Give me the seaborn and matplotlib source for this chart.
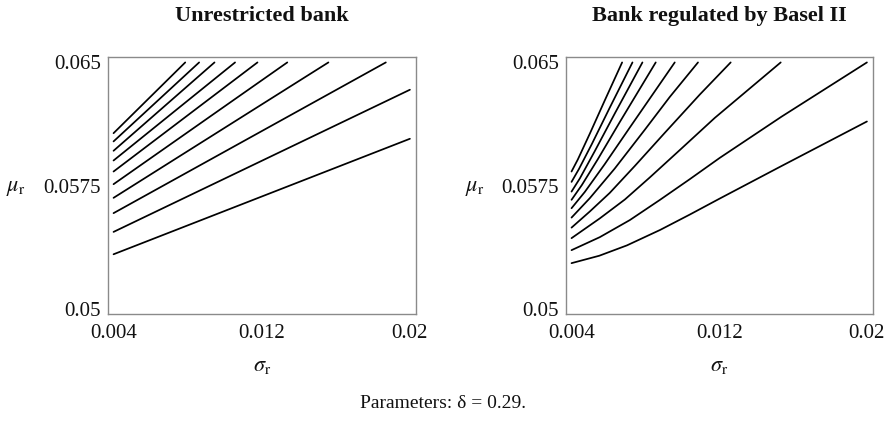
import matplotlib
matplotlib.use("Agg")
import matplotlib.pyplot as plt
import pandas as pd
import seaborn as sns

# Iso-lines of the unrestricted bank: (sigma_r, mu_r) knots per level
unrestricted_sigma = [
    [0.004, 0.020],
    [0.004, 0.020],
    [0.004, 0.0187],
    [0.004, 0.0156],
    [0.004, 0.01338],
    [0.004, 0.01177],
    [0.004, 0.01056],
    [0.004, 0.00945],
    [0.004, 0.00862],
    [0.004, 0.00787],
]
unrestricted_mu = [
    [0.05334, 0.06036],
    [0.05470, 0.06334],
    [0.05584, 0.06500],
    [0.05677, 0.06500],
    [0.05760, 0.06500],
    [0.05837, 0.06500],
    [0.05904, 0.06500],
    [0.05963, 0.06500],
    [0.06020, 0.06500],
    [0.06070, 0.06500],
]

# Iso-lines of the bank regulated by Basel II
basel_sigma = [
    [0.004, 0.0055, 0.007, 0.0088, 0.0104, 0.012, 0.0153, 0.020],
    [0.004, 0.00553, 0.00716, 0.00878, 0.0104, 0.01203, 0.01537, 0.020],
    [0.004, 0.00553, 0.00689, 0.00824, 0.00986, 0.01176, 0.01533],
    [0.004, 0.00499, 0.00607, 0.00743, 0.00905, 0.01095, 0.01262],
    [0.004, 0.00499, 0.00634, 0.00797, 0.00932, 0.01085],
    [0.004, 0.00472, 0.0058, 0.00716, 0.00959],
    [0.004, 0.00456, 0.00542, 0.00661, 0.00856],
    [0.004, 0.00445, 0.00526, 0.00634, 0.00784],
    [0.004, 0.0044, 0.0051, 0.00607, 0.0073],
    [0.004, 0.00434, 0.00499, 0.0058, 0.00674],
]
basel_mu = [
    [0.05280, 0.05325, 0.05388, 0.05482, 0.05575, 0.05671, 0.05866, 0.06141],
    [0.05359, 0.05438, 0.05542, 0.05664, 0.05790, 0.05920, 0.06170, 0.06500],
    [0.05432, 0.05552, 0.05667, 0.05801, 0.05967, 0.06163, 0.06500],
    [0.05496, 0.05594, 0.05707, 0.05871, 0.06072, 0.06305, 0.06500],
    [0.05557, 0.05675, 0.05855, 0.06091, 0.06290, 0.06500],
    [0.05614, 0.05713, 0.05882, 0.06105, 0.06500],
    [0.05665, 0.05755, 0.05911, 0.06137, 0.06500],
    [0.05715, 0.05795, 0.05961, 0.06189, 0.06500],
    [0.05774, 0.05852, 0.06004, 0.06225, 0.06500],
    [0.05837, 0.05910, 0.06067, 0.06269, 0.06500],
]

panel_titles = ["Unrestricted bank", "Bank regulated by Basel II"]
x_ticks = [0.004, 0.012, 0.02]
x_tick_labels = ["0.004", "0.012", "0.02"]
y_ticks = [0.05, 0.0575, 0.065]
y_tick_labels = ["0.05", "0.0575", "0.065"]
caption = "Parameters: \u03b4 = 0.29."


def to_frame(sigmas, mus):
    rows = []
    for level, (xs, ys) in enumerate(zip(sigmas, mus)):
        for order, (x, y) in enumerate(zip(xs, ys)):
            rows.append({"level": level, "order": order, "sigma": x, "mu": y})
    return pd.DataFrame(rows)


sns.set_style("white")
plt.rcParams["font.family"] = ["Liberation Serif", "DejaVu Serif"]
plt.rcParams["mathtext.fontset"] = "stix"

W, H = 890, 425
fig = plt.figure(figsize=(W / 100, H / 100), dpi=100)

frames = [to_frame(unrestricted_sigma, unrestricted_mu),
          to_frame(basel_sigma, basel_mu)]
boxes = [(108, 57, 416, 314), (566, 57, 873, 314)]
ylabel_x = [16, 475]
frame_color = "#8a8a8a"

for i, (df, (x0, y0, x1, y1)) in enumerate(zip(frames, boxes)):
    ax = fig.add_axes([x0 / W, 1 - y1 / H, (x1 - x0) / W, (y1 - y0) / H])
    sns.lineplot(data=df, x="sigma", y="mu", units="level", estimator=None,
                 sort=False, color="black", linewidth=1.25, ax=ax, legend=False)
    ax.set_xlim(0.0037, 0.02033)
    ax.set_ylim(0.04971, 0.06533)
    ax.set_xticks(x_ticks)
    ax.set_xticklabels(x_tick_labels)
    ax.set_yticks(y_ticks)
    ax.set_yticklabels(y_tick_labels)
    ax.tick_params(axis="both", direction="in", length=3, width=0.8,
                   color=frame_color, labelsize=15, labelcolor="#111111")
    ax.tick_params(axis="x", pad=7)
    ax.tick_params(axis="y", pad=5)
    ax.set_xlabel("")
    ax.set_ylabel("")
    for sp in ax.spines.values():
        sp.set_color(frame_color)
        sp.set_linewidth(1.0)

    cx = (x0 + x1) / 2
    fig.text(cx / W, 1 - 16 / H, panel_titles[i], ha="center", va="center",
             fontsize=16, fontweight="bold", color="#111111")
    fig.text(cx / W, 1 - 367 / H, r"$\sigma_{\mathrm{r}}$", ha="center",
             va="center", fontsize=16, color="#111111")
    fig.text(ylabel_x[i] / W, 1 - 189 / H, r"$\mu_{\mathrm{r}}$", ha="center",
             va="center", fontsize=16, color="#111111")

fig.text(443 / W, 1 - 403 / H, caption, ha="center", va="center",
         fontsize=14, color="#111111")

fig.savefig("out.png", dpi=100)
